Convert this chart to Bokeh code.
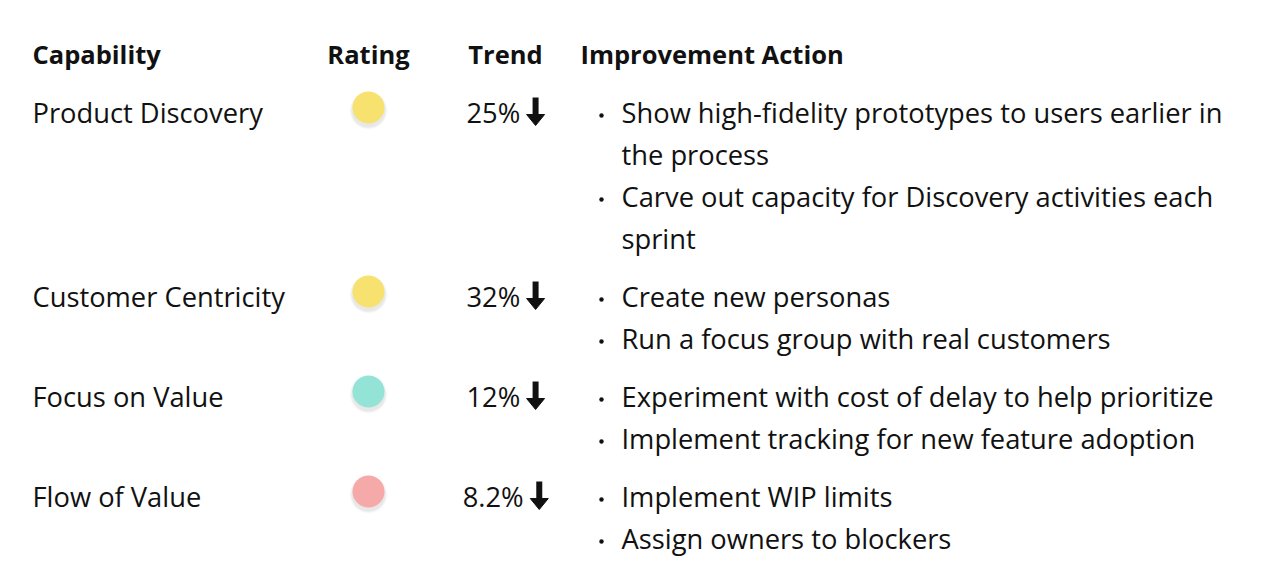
import textwrap
from bokeh.plotting import figure
from bokeh.models import Range1d, ColumnDataSource
from bokeh.core.properties import value
from bokeh.embed import file_html
from bokeh.resources import INLINE

# ---------------- data ----------------
headers = ["Capability", "Rating", "Trend", "Improvement Action"]
capabilities = ["Product Discovery", "Customer Centricity", "Focus on Value", "Flow of Value"]
ratings = ["medium", "medium", "good", "poor"]
trend_labels = ["25%", "32%", "12%", "8.2%"]
trend_dirs = ["down", "down", "down", "down"]
actions = [
    ["Show high-fidelity prototypes to users earlier in the process",
     "Carve out capacity for Discovery activities each sprint"],
    ["Create new personas", "Run a focus group with real customers"],
    ["Experiment with cost of delay to help prioritize",
     "Implement tracking for new feature adoption"],
    ["Implement WIP limits", "Assign owners to blockers"],
]
rating_colors = {"good": "#93E4D7", "medium": "#F8E26F", "poor": "#F6A9A9"}

# ---------------- layout ----------------
FONT = "Open Sans"
FS = 27.3
FS_B = 25.5
W, H = 1256, 561
col_cap_x = 32
col_rating_cx = 368
col_trend_cx = 505
col_bullet_x = 601
col_action_x = 621
header_base = 63
first_base = 122
line_h = 42
row_gap = 16
text_dy = -10
wrap_chars = 49
char_w = {"%": 0.84, ".": 0.27}

p = figure(width=W, height=H, output_backend="svg", toolbar_location=None,
           x_range=Range1d(0, W), y_range=Range1d(H, 0),
           min_border=0, outline_line_color=None)
p.axis.visible = False
p.grid.visible = False
p.background_fill_color = "white"
p.border_fill_color = "white"

# headers
hx = [col_cap_x, col_rating_cx, col_trend_cx, col_action_x - 41]
halign = ["left", "center", "center", "left"]
p.text(x=hx, y=[header_base + text_dy] * 4, text=headers, text_align=halign,
       text_baseline="alphabetic", text_font=value(FONT), text_font_style="bold",
       text_font_size=f"{FS_B}px", text_color="#111111")

cap_y, circ_y, circ_c = [], [], []
tr_x, tr_y, ar_x, ar_y = [], [], [], []
act_x, act_y, act_t, bul_x, bul_y = [], [], [], [], []

y = first_base
for i, cap in enumerate(capabilities):
    cap_y.append(y + text_dy)
    circ_y.append(y - 15)
    circ_c.append(rating_colors[ratings[i]])
    lab = trend_labels[i]
    tw = sum(char_w.get(c, 0.572) for c in lab) * FS
    total = tw + 6 + 18
    start = col_trend_cx - total / 2
    tr_x.append(start)
    tr_y.append(y + text_dy)
    ar_x.append(start + tw + 6 + 9)
    ar_y.append(y)
    k = 0
    for a in actions[i]:
        lines = textwrap.wrap(a, wrap_chars)
        bul_x.append(col_bullet_x)
        bul_y.append(y + k * line_h - 7)
        for ln in lines:
            act_x.append(col_action_x)
            act_y.append(y + k * line_h + text_dy)
            act_t.append(ln)
            k += 1
    y += k * line_h + row_gap

p.text(x=[col_cap_x] * len(capabilities), y=cap_y, text=capabilities,
       text_align="left", text_baseline="alphabetic", text_font=value(FONT),
       text_font_size=f"{FS}px", text_color="#111111")

# rating dots with soft shadow
for dr, al in [(3, 0.02), (2, 0.03), (1, 0.04)]:
    p.circle(x=[col_rating_cx] * len(circ_y), y=[c + 3 for c in circ_y], radius=16 + dr,
             radius_units="screen", fill_color="black", fill_alpha=al, line_color=None)
p.circle(x=[col_rating_cx] * len(circ_y), y=circ_y, radius=16, radius_units="screen",
         fill_color=circ_c, line_color=None)

# trend
p.text(x=tr_x, y=tr_y, text=trend_labels, text_align="left", text_baseline="alphabetic",
       text_font=value(FONT), text_font_size=f"{FS}px", text_color="#111111")
shaft = dict(left=[], right=[], top=[], bottom=[])
head_xs, head_ys = [], []
for ax, ay, d in zip(ar_x, ar_y, trend_dirs):
    sgn = 1 if d == "down" else -1
    shaft["left"].append(ax - 3)
    shaft["right"].append(ax + 3)
    shaft["top"].append(ay - 11 - sgn * 14)
    shaft["bottom"].append(ay - 11 + sgn * 4)
    head_xs.append([ax - 9, ax + 9, ax])
    head_ys.append([ay - 11 + sgn * 3, ay - 11 + sgn * 3, ay - 11 + sgn * 14])
p.quad(source=ColumnDataSource(shaft), left="left", right="right", top="top",
       bottom="bottom", fill_color="#111111", line_color=None)
p.patches(xs=head_xs, ys=head_ys, fill_color="#111111", line_color="#111111", line_width=1)

# actions
p.circle(x=bul_x, y=bul_y, radius=2.2, radius_units="screen", fill_color="#111111",
         line_color=None)
p.text(x=act_x, y=act_y, text=act_t, text_align="left", text_baseline="alphabetic",
       text_font=value(FONT), text_font_size=f"{FS}px", text_color="#111111")

open("out.html", "w").write(file_html(p, INLINE))
